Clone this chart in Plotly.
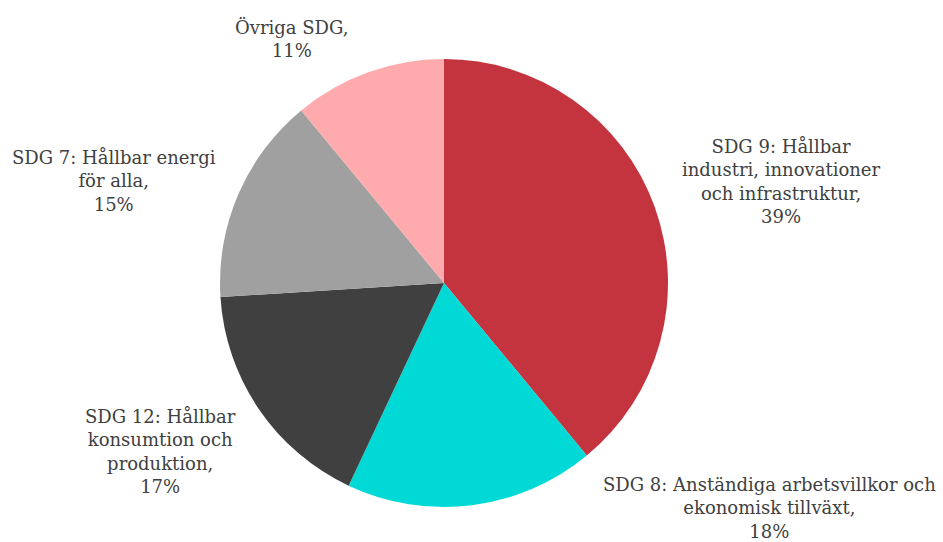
import plotly.graph_objects as go

labels = ["SDG 9: Hållbar<br>industri, innovationer<br>och infrastruktur,",
          "SDG 8: Anständiga arbetsvillkor och<br>ekonomisk tillväxt,",
          "SDG 12: Hållbar<br>konsumtion och<br>produktion,",
          "SDG 7: Hållbar energi<br>för alla,",
          "Övriga SDG,"]
values = [39, 18, 17, 15, 11]
colors = ["#C4343F", "#00D9D6", "#404040", "#A0A0A0", "#FFAAAD"]

# label anchor positions (pixels in the 943x542 canvas)
label_px = [(781, 181), (769, 508), (160, 451), (114, 181), (291, 38)]

W, H = 943, 542
T, B = 59, 35
plot_h = H - T - B

fig = go.Figure(go.Pie(
    labels=[l.replace("<br>", " ") for l in labels],
    values=values,
    marker=dict(colors=colors, line=dict(width=0)),
    sort=False,
    direction="clockwise",
    rotation=0,
    textinfo="none",
    hoverinfo="label+percent",
    showlegend=False,
    domain=dict(x=[0, 888 / W], y=[0, 1]),
))

font = dict(family="Georgia, 'DejaVu Serif', serif", size=18, color="#404040")
for lab, val, (px, py) in zip(labels, values, label_px):
    fig.add_annotation(
        x=px / W, y=(H - B - py) / plot_h, xref="paper", yref="paper",
        text=f"{lab}<br>{val}%", showarrow=False, font=font,
        xanchor="center", yanchor="middle", align="center",
    )

fig.update_layout(
    width=W, height=H,
    margin=dict(l=0, r=0, t=T, b=B),
    paper_bgcolor="white", plot_bgcolor="white",
)
fig.write_html("out.html", config={"displayModeBar": False},
               post_script="document.body.style.margin='0';document.body.style.overflow='hidden';")
